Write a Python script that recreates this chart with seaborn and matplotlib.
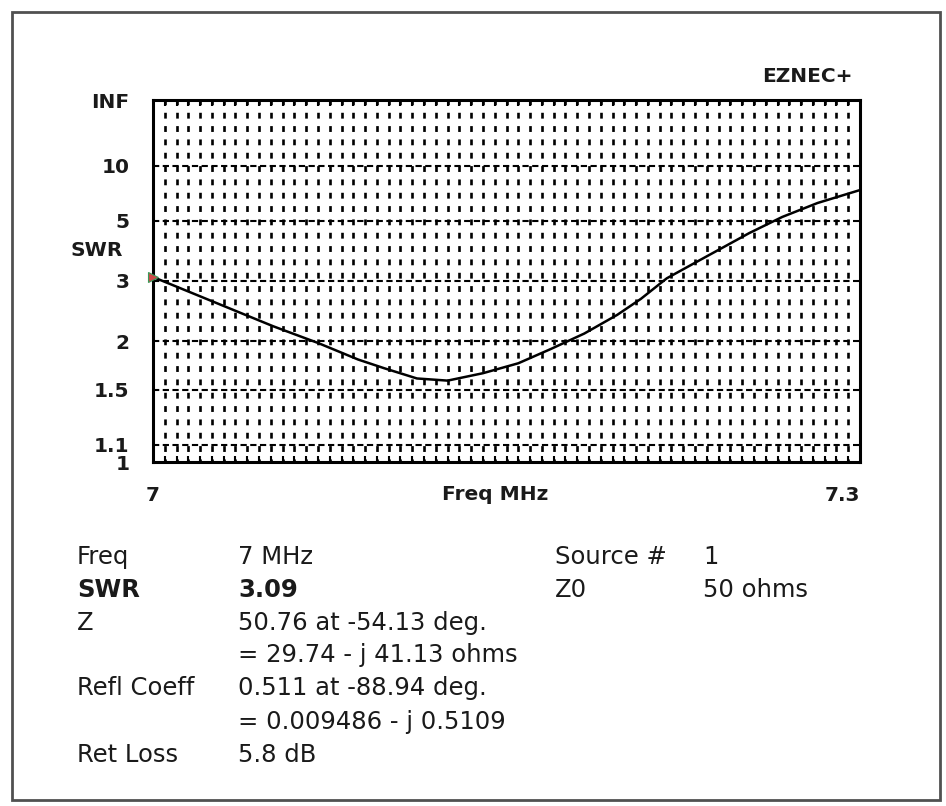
import numpy as np
import matplotlib
matplotlib.use("Agg")
import matplotlib.pyplot as plt
import seaborn as sns
from matplotlib.patches import Rectangle

# SWR sweep
freq_mhz = [7.000, 7.051, 7.070, 7.087, 7.098, 7.112, 7.125, 7.140, 7.155,
            7.169, 7.183, 7.197, 7.207, 7.218, 7.232, 7.253, 7.267, 7.282, 7.300]
swr = [3.09, 2.20, 1.98, 1.79, 1.70, 1.60, 1.58, 1.65, 1.75,
       1.91, 2.10, 2.37, 2.64, 3.06, 3.52, 4.44, 5.19, 6.03, 7.04]

swr_ticks = [1, 1.1, 1.5, 2, 3, 5, 10, np.inf]
swr_tick_labels = ['1', '1.1', '1.5', '2', '3', '5', '10', 'INF']
freq_ticks = [7.0, 7.3]
freq_tick_labels = ['7', '7.3']

# readout table under the plot
left_names = ['Freq', 'SWR', 'Z', '', 'Refl Coeff', '', 'Ret Loss']
left_values = ['7 MHz', '3.09', '50.76 at -54.13 deg.', '= 29.74 - j 41.13 ohms',
               '0.511 at -88.94 deg.', '= 0.009486 - j 0.5109', '5.8 dB']
right_names = ['Source #', 'Z0']
right_values = ['1', '50 ohms']


def refl(s):
    # EZNEC scales the SWR axis by reflection coefficient
    s = np.asarray(s, dtype=float)
    return np.where(np.isinf(s), 1.0, (s - 1) / (s + 1))


W, H = 946, 806


def fx(px):
    return px / W


def fy(py):
    return 1 - py / H


sns.set_theme(style='white')
plt.rcParams['font.family'] = ['DejaVu Sans']
plt.rcParams['lines.scale_dashes'] = False

fig = plt.figure(figsize=(W / 100, H / 100), dpi=100)
fig.patches.append(Rectangle((fx(12), fy(800)), fx(928), (800 - 12) / H,
                             transform=fig.transFigure, fill=False,
                             edgecolor='#505050', lw=2))

ax = fig.add_axes([fx(153), fy(462), 707 / W, 362 / H])

# dense dotted verticals, dashed horizontals at the labelled SWR values
grid_f = np.linspace(freq_ticks[0], freq_ticks[1], 61)
for f in grid_f[1:-1]:
    ax.axvline(f, color='black', lw=1.9, ls=(2, (4.2, 5.4)), zorder=1)
for r in refl(swr_ticks[1:-1]):
    ax.axhline(r, color='black', lw=1.5, ls=(0, (4.5, 2.5)), zorder=1)

sns.lineplot(x=freq_mhz, y=refl(swr), color='black', lw=1.8, ax=ax, zorder=5)
ax.plot(freq_mhz[0], refl(swr[0]), marker='>', ms=7, color='#d04848',
        mec='#3a9a5a', mew=0.8, clip_on=False, zorder=6)

ax.set_xlim(freq_ticks[0], freq_ticks[1])
ax.set_ylim(0, 1)
for sp in ax.spines.values():
    sp.set_visible(True)
    sp.set_color('black')
    sp.set_linewidth(2.2)

lab = dict(fontsize=14.5, fontweight='bold', color='#1a1a1a')
ax.set_yticks(refl(swr_ticks))
ax.set_yticklabels(swr_tick_labels, **lab)
ax.tick_params(axis='y', length=0, pad=17)
ax.set_xticks(freq_ticks)
ax.set_xticklabels(freq_tick_labels, **lab)
ax.get_xticklabels()[-1].set_ha('right')
ax.set_xticks(grid_f, minor=True)
ax.tick_params(axis='x', which='major', length=0, pad=17)
ax.tick_params(axis='x', which='minor', direction='in', length=4, width=1.5,
               color='black', top=True, bottom=True)
ax.set_xlabel('')
ax.set_ylabel('')

fig.text(fx(123), fy(250), 'SWR', ha='right', va='center', **lab)
fig.text(fx(495), fy(494), 'Freq MHz', ha='center', va='center', **lab)
fig.text(fx(853), fy(76), 'EZNEC+', ha='right', va='center', **lab)

row_y = [557, 590, 623, 655, 688, 722, 755]
for i, (name, val) in enumerate(zip(left_names, left_values)):
    wt = 'bold' if name == 'SWR' else 'normal'
    fig.text(fx(77), fy(row_y[i]), name, ha='left', va='center', fontsize=17.5,
             fontweight=wt, color='#1a1a1a')
    fig.text(fx(238), fy(row_y[i]), val, ha='left', va='center', fontsize=17.5,
             fontweight=wt, color='#1a1a1a')
for i, (name, val) in enumerate(zip(right_names, right_values)):
    fig.text(fx(555), fy(row_y[i]), name, ha='left', va='center', fontsize=17.5, color='#1a1a1a')
    fig.text(fx(703), fy(row_y[i]), val, ha='left', va='center', fontsize=17.5, color='#1a1a1a')

fig.savefig('out.png', dpi=100)
